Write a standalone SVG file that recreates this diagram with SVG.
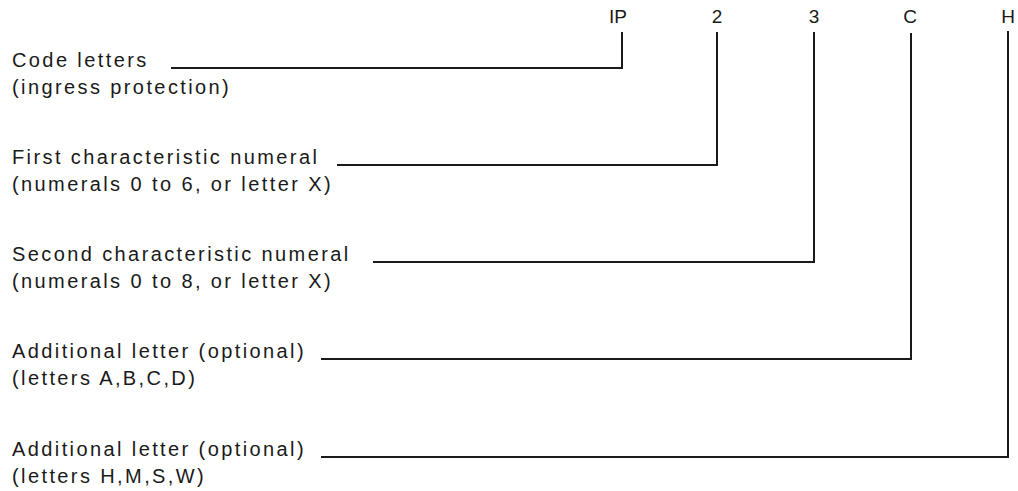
<svg xmlns="http://www.w3.org/2000/svg" width="1018" height="491" viewBox="0 0 1018 491">
<style>
.lbl{font-family:"Liberation Sans",Arial,sans-serif;font-size:20px;fill:#1a1a1a;letter-spacing:2.4px}
.code{font-family:"Liberation Sans",Arial,sans-serif;font-size:19px;fill:#1a1a1a;text-anchor:middle}
.conn{fill:none;stroke:#1a1a1a;stroke-width:2}
</style>
<rect width="1018" height="491" fill="#fff"/>
<g id="codes">
<text class="code" x="618" y="23">IP</text>
<text class="code" x="717" y="23">2</text>
<text class="code" x="814" y="23">3</text>
<text class="code" x="910" y="23">C</text>
<text class="code" x="1008" y="23">H</text>
</g>
<g id="node-code-letters">
<text class="lbl" x="12" y="67">Code letters</text>
<text class="lbl" x="12" y="94">(ingress protection)</text>
</g>
<g id="node-first">
<text class="lbl" x="12" y="164">First characteristic numeral</text>
<text class="lbl" x="12" y="191">(numerals 0 to 6, or letter X)</text>
</g>
<g id="node-second">
<text class="lbl" x="12" y="261">Second characteristic numeral</text>
<text class="lbl" x="12" y="288">(numerals 0 to 8, or letter X)</text>
</g>
<g id="node-add1">
<text class="lbl" x="12" y="358">Additional letter (optional)</text>
<text class="lbl" x="12" y="385">(letters A,B,C,D)</text>
</g>
<g id="node-add2">
<text class="lbl" x="12" y="456">Additional letter (optional)</text>
<text class="lbl" x="12" y="483">(letters H,M,S,W)</text>
</g>
<g id="connectors">
<polyline class="conn" points="171,68 622,68 622,32"/>
<polyline class="conn" points="337,165 717,165 717,32"/>
<polyline class="conn" points="373,262 814,262 814,32"/>
<polyline class="conn" points="321,359 911,359 911,33"/>
<polyline class="conn" points="321,457 1008,457 1008,31"/>
</g>
</svg>
